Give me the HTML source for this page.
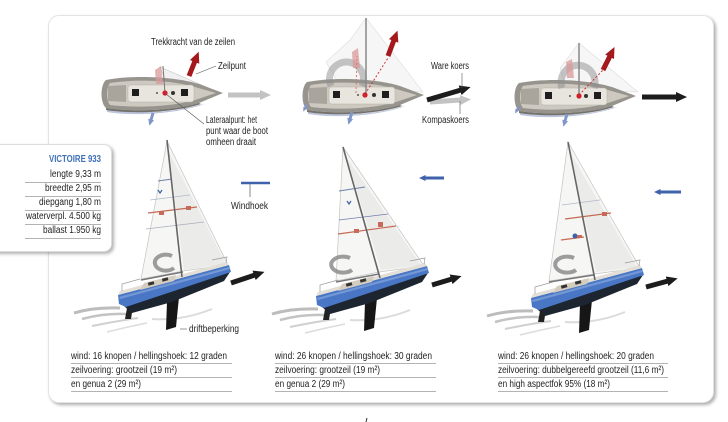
<!DOCTYPE html>
<html><head><meta charset="utf-8">
<style>
html,body{margin:0;padding:0;background:#fff;}
body{width:728px;height:422px;position:relative;overflow:hidden;}
.card{position:absolute;left:48px;top:15px;width:664px;height:386px;border:1px solid #e3e3e3;border-radius:11px;background:#fff;box-shadow:2px 2px 3px rgba(0,0,0,0.32);}
.spec{position:absolute;left:-12px;top:144px;width:122px;height:106px;border:1px solid #dcdcdc;border-radius:8px;background:#fff;box-shadow:2px 2px 3px rgba(0,0,0,0.3);}
svg{position:absolute;left:0;top:0;}
</style></head><body>
<div class="card"></div>
<div class="spec"></div>
<svg width="728" height="422" viewBox="0 0 728 422" xmlns="http://www.w3.org/2000/svg">
<defs>
  <marker id="mr" viewBox="0 0 2.2 2" refX="0.2" refY="1" markerWidth="2.2" markerHeight="2" orient="auto"><path d="M0,0 L2.2,1 L0,2 Z" fill="#a3191c"/></marker>
  <marker id="mk" viewBox="0 0 2.2 2" refX="0.2" refY="1" markerWidth="2.2" markerHeight="2" orient="auto"><path d="M0,0 L2.2,1 L0,2 Z" fill="#1c1c1c"/></marker>
  <marker id="mg" viewBox="0 0 2.2 2" refX="0.2" refY="1" markerWidth="2.2" markerHeight="2" orient="auto"><path d="M0,0 L2.2,1 L0,2 Z" fill="#c3c3c3"/></marker>
  <marker id="mb" viewBox="0 0 2.2 2" refX="0.2" refY="1" markerWidth="2.2" markerHeight="2" orient="auto"><path d="M0,0 L2.2,1 L0,2 Z" fill="#8196c9"/></marker>
  <marker id="mw" viewBox="0 0 2.2 2" refX="0.2" refY="1" markerWidth="2.2" markerHeight="2" orient="auto"><path d="M0,0 L2.2,1 L0,2 Z" fill="#3f62ab"/></marker>

  <g id="tophull">
    <path d="M6,15 C30,20 72,19 98,11 L104,10 C72,21 30,22 6,18 Z" fill="#8fa0c8" opacity="0.6"/>
    <path d="M5,-14 C30,-19 72,-18 98,-10 L122,-1 L98,9 C72,17 30,18 5,14 C-1,9 -1,-9 5,-14 Z" fill="#97948e"/>
    <path d="M9,-11 C33,-15 70,-14 94,-7 L115,-1 L94,6 C70,13 33,14 9,11 C5,6 5,-6 9,-11 Z" fill="#cdc9c0"/>
    <path d="M7,-8 L25,-9 L25,8 L7,7 Z" fill="#aaa59c"/>
    <rect x="27" y="-9" width="66" height="17" rx="3" fill="#e8e5de" stroke="#b5b1a8" stroke-width="0.5"/>
    <rect x="31" y="-5" width="7" height="7" fill="#1e1e1e"/>
    <rect x="80" y="-5" width="7" height="7" fill="#1e1e1e"/>
    <circle cx="72" cy="-1" r="2" fill="#333"/>
    <circle cx="56" cy="-1" r="1" fill="#555"/>
    <path d="M5,14 C30,18 72,17 98,9 L100,10 C72,19 30,20 5,16 Z" fill="#75726c"/>
  </g>

  <g id="sidehull">
    <path d="M-108,36 Q-88,30 -62,31" stroke="#6a6a6a" stroke-width="3" fill="none" opacity="0.45"/>
    <path d="M-100,42 Q-78,36 -56,37" stroke="#7a7a7a" stroke-width="2.5" fill="none" opacity="0.45"/>
    <path d="M-90,49 Q-66,44 -44,41" stroke="#8a8a8a" stroke-width="2" fill="none" opacity="0.4"/>
    <path d="M-75,55 Q-55,50 -35,46" stroke="#9a9a9a" stroke-width="1.5" fill="none" opacity="0.35"/>
    <path d="M-30,42 Q0,44 30,32" stroke="#999" stroke-width="2" fill="none" opacity="0.35"/>
    <polygon points="-15,24 -3,20 -6,50 -16,53" fill="#161616"/>
    <polygon points="-55,31 -49,29 -51,42 -57,42" fill="#222"/>
    <polygon points="-58,29 48,-5 42,4 -10,25 -50,36" fill="#1d2530"/>
    <polygon points="-64,18 47,-12 49,-5 -56,30 -63,27" fill="#4a77c5"/>
    <polygon points="-63,20 47,-10 48,-8 -62,22" fill="#86a6dc" opacity="0.7"/>
    <polygon points="-64,18 47,-12 45,-15 -62,14" fill="#e3dfd6"/>
    <polygon points="-42,13 -8,4 -6,-2 -38,6" fill="#d4cdbf"/>
    <rect x="-34" y="5" width="6" height="3" fill="#333" transform="rotate(-15 -31 6)"/>
    <rect x="-20" y="1" width="6" height="3" fill="#333" transform="rotate(-15 -17 2)"/>
    <polyline points="-60,14 -60,7 -42,2" stroke="#999" stroke-width="0.7" fill="none"/>
    <polyline points="44,-14 45,-20 30,-17" stroke="#999" stroke-width="0.7" fill="none"/>
  </g>
</defs>

<!-- ===== TOP VIEW BOAT 1 ===== -->
<polygon points="160,67 218,92 190,86 165,80" fill="#f0f0f0" stroke="#c0c0c0" stroke-width="0.6"/>
<use href="#tophull" transform="translate(101,94)"/>
<polygon points="155,70 161,66 163,84 156,84" fill="#d99a9a" opacity="0.75"/>
<line x1="163" y1="66" x2="165" y2="93" stroke="#777" stroke-width="1"/>
<circle cx="165" cy="93" r="2.6" fill="#d0202a"/>
<line x1="189" y1="76" x2="195" y2="61" stroke="#a3191c" stroke-width="5" marker-end="url(#mr)"/>
<line x1="228" y1="95" x2="261" y2="95" stroke="#c3c3c3" stroke-width="5" marker-end="url(#mg)"/>
<line x1="153" y1="113" x2="151" y2="120" stroke="#8196c9" stroke-width="3" marker-end="url(#mb)"/>
<line x1="196" y1="74" x2="216" y2="66" stroke="#555" stroke-width="0.6"/>
<line x1="166" y1="94" x2="204" y2="124" stroke="#555" stroke-width="0.6"/>

<!-- ===== TOP VIEW BOAT 2 ===== -->
<polygon points="366,18 423,92 380,90 340,86 326,62 350,40" fill="#f3f3f3" stroke="#d0d0d0" stroke-width="0.6" opacity="0.75"/>
<use href="#tophull" transform="translate(302,96)"/>
<path d="M331,86 A17,17 0 1,1 362,86" stroke="#8d8d8d" stroke-width="7" fill="none" opacity="0.5"/>
<polygon points="352,52 358,48 360,68 353,68" fill="#d99a9a" opacity="0.75"/>
<line x1="366" y1="18" x2="366" y2="95" stroke="#888" stroke-width="1.5"/>
<line x1="365" y1="94" x2="388" y2="58" stroke="#c33" stroke-width="1" stroke-dasharray="2,2"/>
<line x1="356" y1="93" x2="357" y2="56" stroke="#d77" stroke-width="1" stroke-dasharray="2,2"/>
<circle cx="365" cy="95" r="2.6" fill="#d0202a"/>
<line x1="388" y1="56" x2="394" y2="40" stroke="#a3191c" stroke-width="5" marker-end="url(#mr)"/>
<line x1="430" y1="102" x2="461" y2="100" stroke="#c3c3c3" stroke-width="5" marker-end="url(#mg)"/>
<line x1="427" y1="100" x2="461" y2="90" stroke="#1c1c1c" stroke-width="5" marker-end="url(#mk)"/>
<line x1="462" y1="73" x2="462" y2="88" stroke="#555" stroke-width="0.6"/>
<line x1="460" y1="101" x2="460" y2="114" stroke="#555" stroke-width="0.6"/>
<line x1="352" y1="112" x2="350" y2="119" stroke="#8196c9" stroke-width="3" marker-end="url(#mb)"/>
<line x1="307" y1="104" x2="305" y2="108" stroke="#8196c9" stroke-width="2" marker-end="url(#mb)"/>

<!-- ===== TOP VIEW BOAT 3 ===== -->
<polygon points="579,43 638,92 600,90 565,84 560,68" fill="#f3f3f3" stroke="#d0d0d0" stroke-width="0.6" opacity="0.75"/>
<use href="#tophull" transform="translate(514,97)"/>
<path d="M562,88 A17,17 0 1,1 594,88" stroke="#8d8d8d" stroke-width="7" fill="none" opacity="0.5"/>
<polygon points="566,62 572,59 574,78 567,78" fill="#d99a9a" opacity="0.75"/>
<line x1="579" y1="43" x2="579" y2="96" stroke="#888" stroke-width="1.5"/>
<line x1="579" y1="95" x2="603" y2="70" stroke="#c33" stroke-width="1" stroke-dasharray="2,2"/>
<circle cx="579" cy="96" r="2.6" fill="#d0202a"/>
<line x1="603" y1="70" x2="610" y2="56" stroke="#a3191c" stroke-width="5" marker-end="url(#mr)"/>
<line x1="642" y1="97" x2="677" y2="97" stroke="#1c1c1c" stroke-width="5" marker-end="url(#mk)"/>
<line x1="567" y1="114" x2="565" y2="121" stroke="#8196c9" stroke-width="3" marker-end="url(#mb)"/>
<line x1="519" y1="106" x2="517" y2="110" stroke="#8196c9" stroke-width="2" marker-end="url(#mb)"/>

<!-- ===== SIDE BOAT 1 ===== -->
<polygon points="167,141 228,265 183,271 141,279" fill="#f6f6f4" stroke="#c4c4c4" stroke-width="0.7"/>
<polygon points="169,152 226,264 184,270" fill="#ebebe9"/>
<line x1="158" y1="181" x2="172" y2="179" stroke="#6d80aa" stroke-width="1"/>
<line x1="150" y1="200" x2="190" y2="195" stroke="#b0b8c8" stroke-width="0.7"/>
<line x1="148" y1="213" x2="197" y2="207" stroke="#c56a55" stroke-width="1.2"/>
<rect x="159" y="211" width="5" height="4" fill="#c86a5a"/>
<rect x="186" y="206" width="5" height="4" fill="#c86a5a"/>
<line x1="146" y1="229" x2="204" y2="222" stroke="#a9b0bb" stroke-width="0.8"/>
<path d="M158,190 l2,3 l2,-3" stroke="#3f62ab" stroke-width="1.2" fill="none"/>
<path d="M172,256 A11,8 0 1,0 174,268" stroke="#8c8c8c" stroke-width="4" fill="none" opacity="0.85"/>
<line x1="141" y1="280" x2="183" y2="272" stroke="#777" stroke-width="1.5"/>
<use href="#sidehull" transform="translate(182,277)"/>
<line x1="167" y1="140" x2="182" y2="277" stroke="#666" stroke-width="1.6"/>
<line x1="231" y1="283" x2="255" y2="275" stroke="#1c1c1c" stroke-width="5" marker-end="url(#mk)"/>
<line x1="241" y1="183" x2="270" y2="183" stroke="#3f62ab" stroke-width="2.5"/>
<line x1="250" y1="184" x2="250" y2="197" stroke="#888" stroke-width="1"/>
<line x1="180" y1="329" x2="187" y2="329" stroke="#555" stroke-width="0.6"/>

<!-- ===== SIDE BOAT 2 ===== -->
<polygon points="343,147 424,266 379,272 336,281" fill="#f6f6f4" stroke="#c4c4c4" stroke-width="0.7"/>
<polygon points="347,158 421,265 381,270" fill="#ebebe9"/>
<line x1="339" y1="191" x2="365" y2="187" stroke="#6d80aa" stroke-width="1"/>
<line x1="339" y1="220" x2="388" y2="214" stroke="#6d80aa" stroke-width="0.8"/>
<line x1="338" y1="234" x2="396" y2="226" stroke="#c56a55" stroke-width="1.2"/>
<rect x="354" y="229" width="5" height="4" fill="#c86a5a"/>
<rect x="378" y="222" width="5" height="5" fill="#c86a5a"/>
<path d="M347,201 l2,3 l2,-3" stroke="#3f62ab" stroke-width="1.2" fill="none"/>
<path d="M350,258 A12,8 0 1,0 352,270" stroke="#8c8c8c" stroke-width="4" fill="none" opacity="0.85"/>
<line x1="336" y1="282" x2="379" y2="274" stroke="#777" stroke-width="1.5"/>
<use href="#sidehull" transform="translate(380,278)"/>
<line x1="343" y1="147" x2="380" y2="278" stroke="#666" stroke-width="1.6"/>
<line x1="432" y1="285" x2="452" y2="279" stroke="#1c1c1c" stroke-width="5" marker-end="url(#mk)"/>
<line x1="444" y1="178" x2="425" y2="178" stroke="#3f62ab" stroke-width="3" marker-end="url(#mw)"/>

<!-- ===== SIDE BOAT 3 ===== -->
<polygon points="568,142 640,268 594,274 549,281" fill="#f6f6f4" stroke="#c4c4c4" stroke-width="0.7"/>
<polygon points="571,154 637,267 596,272" fill="#ebebe9"/>
<line x1="562" y1="205" x2="600" y2="200" stroke="#b0b8c8" stroke-width="0.8"/>
<line x1="565" y1="219" x2="611" y2="213" stroke="#c56a55" stroke-width="1.2"/>
<rect x="602" y="212" width="5" height="4" fill="#c86a5a"/>
<line x1="561" y1="240" x2="584" y2="237" stroke="#c56a55" stroke-width="1.2"/>
<circle cx="575" cy="236" r="2.5" fill="#3f62ab"/>
<rect x="577" y="235" width="5" height="3" fill="#c86a5a"/>
<path d="M574,258 A12,8 0 1,0 576,270" stroke="#8c8c8c" stroke-width="4" fill="none" opacity="0.85"/>
<line x1="549" y1="282" x2="594" y2="275" stroke="#777" stroke-width="1.5"/>
<use href="#sidehull" transform="translate(595,280)"/>
<line x1="568" y1="142" x2="595" y2="280" stroke="#666" stroke-width="1.6"/>
<line x1="646" y1="287" x2="668" y2="281" stroke="#1c1c1c" stroke-width="5" marker-end="url(#mk)"/>
<line x1="681" y1="192" x2="660" y2="192" stroke="#3f62ab" stroke-width="3" marker-end="url(#mw)"/>

<!-- ===== LABELS ===== -->
<g font-family="'Liberation Sans Narrow','Liberation Sans',sans-serif" font-size="10" fill="#222">
  <text x="151" y="45" textLength="84" lengthAdjust="spacingAndGlyphs">Trekkracht van de zeilen</text>
  <text x="218" y="69" textLength="28" lengthAdjust="spacingAndGlyphs">Zeilpunt</text>
  <text x="206" y="123" textLength="51" lengthAdjust="spacingAndGlyphs">Lateraalpunt: het</text>
  <text x="206" y="134" textLength="62" lengthAdjust="spacingAndGlyphs">punt waar de boot</text>
  <text x="206" y="145" textLength="50" lengthAdjust="spacingAndGlyphs">omheen draait</text>
  <text x="431" y="69" textLength="38" lengthAdjust="spacingAndGlyphs">Ware koers</text>
  <text x="422" y="123" textLength="47" lengthAdjust="spacingAndGlyphs">Kompaskoers</text>
  <text x="231" y="209" textLength="37" lengthAdjust="spacingAndGlyphs">Windhoek</text>
  <text x="189" y="332" textLength="50" lengthAdjust="spacingAndGlyphs">driftbeperking</text>

  <text x="49" y="162" textLength="52" lengthAdjust="spacingAndGlyphs" font-weight="bold" fill="#4070b8">VICTOIRE 933</text>
  <text x="50" y="177" textLength="51" lengthAdjust="spacingAndGlyphs">lengte 9,33 m</text>
  <text x="45" y="191" textLength="56" lengthAdjust="spacingAndGlyphs">breedte 2,95 m</text>
  <text x="39" y="205" textLength="62" lengthAdjust="spacingAndGlyphs">diepgang 1,80 m</text>
  <text x="26" y="219" textLength="75" lengthAdjust="spacingAndGlyphs">waterverpl. 4.500 kg</text>
  <text x="43" y="233" textLength="58" lengthAdjust="spacingAndGlyphs">ballast 1.950 kg</text>

  <text x="71" y="359" textLength="156" lengthAdjust="spacingAndGlyphs">wind: 16 knopen / hellingshoek: 12 graden</text>
  <text x="71" y="373" textLength="106" lengthAdjust="spacingAndGlyphs">zeilvoering: grootzeil (19 m²)</text>
  <text x="71" y="387" textLength="70" lengthAdjust="spacingAndGlyphs">en genua 2 (29 m²)</text>

  <text x="275" y="359" textLength="157" lengthAdjust="spacingAndGlyphs">wind: 26 knopen / hellingshoek: 30 graden</text>
  <text x="275" y="373" textLength="105" lengthAdjust="spacingAndGlyphs">zeilvoering: grootzeil (19 m²)</text>
  <text x="275" y="387" textLength="70" lengthAdjust="spacingAndGlyphs">en genua 2 (29 m²)</text>

  <text x="498" y="359" textLength="156" lengthAdjust="spacingAndGlyphs">wind: 26 knopen / hellingshoek: 20 graden</text>
  <text x="498" y="373" textLength="166" lengthAdjust="spacingAndGlyphs">zeilvoering: dubbelgereefd grootzeil (11,6 m²)</text>
  <text x="498" y="387" textLength="112" lengthAdjust="spacingAndGlyphs">en high aspectfok 95% (18 m²)</text>
</g>

<g stroke="#9a9a9a" stroke-width="0.8">
  <line x1="25" y1="182.5" x2="101" y2="182.5"/>
  <line x1="25" y1="196.5" x2="101" y2="196.5"/>
  <line x1="25" y1="210.5" x2="101" y2="210.5"/>
  <line x1="25" y1="224.5" x2="101" y2="224.5"/>
  <line x1="25" y1="238.5" x2="101" y2="238.5"/>

  <line x1="71" y1="363.5" x2="232" y2="363.5"/>
  <line x1="71" y1="377.5" x2="232" y2="377.5"/>
  <line x1="71" y1="391.5" x2="232" y2="391.5"/>
  <line x1="275" y1="363.5" x2="436" y2="363.5"/>
  <line x1="275" y1="377.5" x2="436" y2="377.5"/>
  <line x1="275" y1="391.5" x2="436" y2="391.5"/>
  <line x1="498" y1="363.5" x2="668" y2="363.5"/>
  <line x1="498" y1="377.5" x2="668" y2="377.5"/>
  <line x1="498" y1="391.5" x2="668" y2="391.5"/>
</g>
<line x1="367" y1="418" x2="366" y2="422" stroke="#333" stroke-width="1"/>
</svg>
</body></html>
